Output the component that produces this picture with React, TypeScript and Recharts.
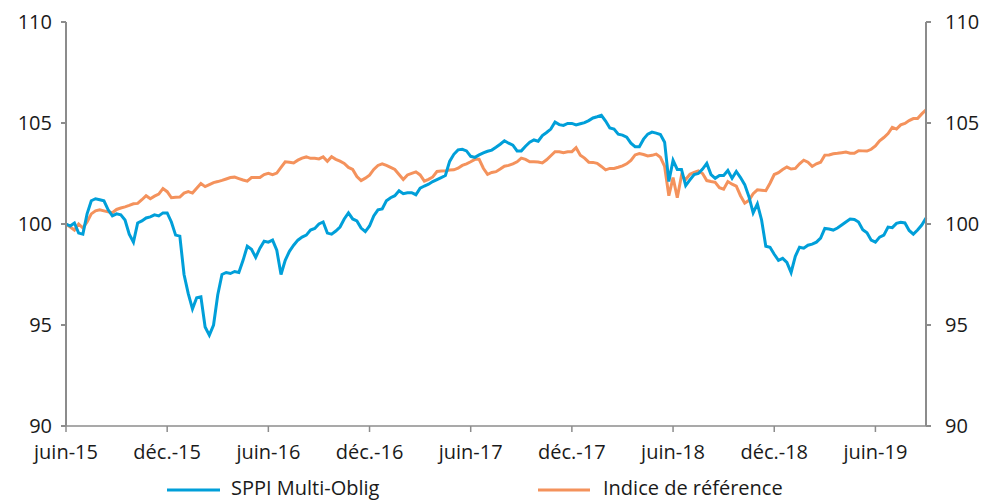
import { LineChart, Line, XAxis, YAxis } from "recharts";

// weekly readings, one point every quarter month from juin-15
const sppi = [
  100.0, 99.9, 100.05, 99.55, 99.5, 100.5, 101.15, 101.25, 101.2, 101.15,
  100.7, 100.4, 100.5, 100.45, 100.2, 99.5, 99.1, 100.05, 100.15, 100.3,
  100.35, 100.45, 100.4, 100.55, 100.55, 100.1, 99.45, 99.4, 97.5, 96.55,
  95.8, 96.35, 96.4, 94.9, 94.5, 95.0, 96.5, 97.5, 97.6, 97.55,
  97.65, 97.6, 98.2, 98.9, 98.75, 98.35, 98.8, 99.15, 99.1, 99.2,
  98.7, 97.5, 98.2, 98.65, 98.95, 99.2, 99.35, 99.45, 99.7, 99.78,
  100.0, 100.1, 99.55, 99.5, 99.65, 99.85, 100.25, 100.55, 100.25, 100.15,
  99.8, 99.62, 99.9, 100.4, 100.7, 100.75, 101.15, 101.3, 101.4, 101.65,
  101.5, 101.55, 101.55, 101.45, 101.77, 101.88, 101.97, 102.1, 102.2, 102.3,
  102.4, 103.1, 103.45, 103.67, 103.7, 103.62, 103.35, 103.3, 103.42, 103.52,
  103.6, 103.66, 103.8, 103.95, 104.12, 104.0, 103.9, 103.62, 103.62, 103.85,
  104.05, 104.16, 104.1, 104.38, 104.53, 104.7, 105.05, 104.92, 104.88, 104.98,
  104.98, 104.9, 104.96, 105.02, 105.12, 105.25, 105.31, 105.38, 105.1, 104.75,
  104.7, 104.45, 104.4, 104.3, 104.0, 103.83, 103.83, 104.2, 104.45, 104.55,
  104.5, 104.43, 104.05, 102.1, 103.15, 102.7, 102.7, 101.9, 102.18, 102.45,
  102.5, 102.72, 103.0, 102.45, 102.26, 102.4, 102.4, 102.65, 102.26, 102.6,
  102.3, 101.95, 101.35, 100.55, 101.0, 100.2, 98.9, 98.85, 98.5, 98.2,
  98.3, 98.1, 97.6, 98.4, 98.85, 98.8, 98.95, 99.0, 99.1, 99.3,
  99.78, 99.75, 99.7, 99.8, 99.95, 100.1, 100.25, 100.22, 100.1, 99.72,
  99.57, 99.2, 99.1, 99.35, 99.45, 99.85, 99.82, 100.03, 100.08, 100.05,
  99.68, 99.5, 99.7, 99.95, 100.3,
];

const benchmark = [
  100.0, 99.85, 99.7, 100.0, 99.8, 100.1, 100.5, 100.65, 100.7, 100.65,
  100.6, 100.56, 100.72, 100.79, 100.85, 100.92, 101.0, 101.02, 101.2, 101.4,
  101.25, 101.38, 101.48, 101.75, 101.6, 101.3, 101.32, 101.33, 101.53, 101.6,
  101.53, 101.77, 102.0, 101.85, 101.95, 102.05, 102.1, 102.16, 102.23, 102.3,
  102.32, 102.25, 102.18, 102.12, 102.3, 102.3, 102.3, 102.45, 102.51, 102.44,
  102.52, 102.8, 103.08, 103.06, 103.02, 103.16, 103.26, 103.32, 103.25, 103.25,
  103.22, 103.32, 103.1, 103.33, 103.2, 103.11, 103.0, 102.8, 102.7, 102.35,
  102.15, 102.27, 102.42, 102.7, 102.9, 102.98, 102.9, 102.8, 102.7, 102.45,
  102.2, 102.43, 102.51, 102.58, 102.43, 102.12, 102.21, 102.33, 102.6, 102.62,
  102.63, 102.67, 102.68, 102.76, 102.9, 102.98, 103.08, 103.2, 103.2, 102.76,
  102.46, 102.55, 102.59, 102.72, 102.86, 102.9, 102.98, 103.08, 103.26, 103.2,
  103.08, 103.08, 103.07, 103.02, 103.18, 103.38, 103.58, 103.58, 103.53, 103.58,
  103.58, 103.78, 103.41, 103.26, 103.06, 103.05, 103.0, 102.85, 102.68, 102.75,
  102.75, 102.81, 102.88, 102.98, 103.15, 103.42, 103.49, 103.44, 103.37, 103.4,
  103.46, 103.3, 102.85, 101.4, 102.3, 101.3, 102.4, 102.2, 102.46, 102.55,
  102.63, 102.5, 102.15, 102.1, 102.06, 101.8, 101.72, 102.1, 101.97, 101.87,
  101.4, 101.03, 101.17, 101.5, 101.69, 101.67, 101.65, 102.02, 102.45, 102.54,
  102.7, 102.82, 102.72, 102.75, 102.98, 103.16, 103.06, 102.85, 102.98, 103.06,
  103.41, 103.42, 103.48, 103.5, 103.53, 103.56, 103.5, 103.5, 103.63, 103.62,
  103.61, 103.7, 103.86, 104.12, 104.28, 104.48, 104.78, 104.7, 104.91, 104.98,
  105.12, 105.22, 105.22, 105.45, 105.65,
];

const tickMonths = [0, 6, 12, 18, 24, 30, 36, 42, 48];
const tickLabels = [
  "juin-15", "déc.-15", "juin-16", "déc.-16", "juin-17",
  "déc.-17", "juin-18", "déc.-18", "juin-19",
];
const yTicks = [90, 95, 100, 105, 110];

const BLUE = "#009fd9";
const ORANGE = "#f4925c";
const AXIS = "#8c8c8c";
const FONT = "'Open Sans', sans-serif";

const data = sppi.map((v, i) => ({ m: i / 4, sppi: v, ref: benchmark[i] }));

const tickStyle = { fill: "#1a1a1a", fontSize: 20, fontFamily: FONT };

export default function App() {
  return (
    <div style={{ position: "absolute", left: 0, top: 0, width: 987, height: 501, overflow: "hidden", background: "#fff" }}>
      <LineChart width={987} height={501} data={data} margin={{ top: 22, right: 0, bottom: 35, left: 0 }}>
        <XAxis
          dataKey="m"
          type="number"
          domain={[0, 51]}
          ticks={tickMonths}
          tickFormatter={(v: number) => tickLabels[tickMonths.indexOf(v)]}
          height={40}
          stroke={AXIS}
          strokeWidth={1.5}
          tickSize={6}
          tickMargin={13}
          tick={tickStyle}
          interval={0}
        />
        <YAxis
          yAxisId="l"
          domain={[90, 110]}
          ticks={yTicks}
          width={66}
          stroke={AXIS}
          strokeWidth={2}
          tickSize={5}
          tickMargin={9}
          tick={tickStyle}
        />
        <YAxis
          yAxisId="r"
          orientation="right"
          domain={[90, 110]}
          ticks={yTicks}
          width={61}
          stroke={AXIS}
          strokeWidth={2}
          tickSize={5}
          tickMargin={14}
          tick={tickStyle}
        />
        <Line yAxisId="r" type="linear" dataKey="ref" stroke={ORANGE} strokeWidth={3} dot={false} isAnimationActive={false} />
        <Line yAxisId="l" type="linear" dataKey="sppi" stroke={BLUE} strokeWidth={3} dot={false} isAnimationActive={false} />
      </LineChart>
      <svg width={987} height={501} style={{ position: "absolute", left: 0, top: 0, pointerEvents: "none" }}>
        <line x1={167} x2={220} y1={490} y2={490} stroke={BLUE} strokeWidth={3} />
        <text x={231} y={495} fontSize={20} fontFamily={FONT} fill="#1a1a1a">SPPI Multi-Oblig</text>
        <line x1={538} x2={590} y1={490} y2={490} stroke={ORANGE} strokeWidth={3} />
        <text x={603} y={495} fontSize={20} fontFamily={FONT} fill="#1a1a1a">Indice de référence</text>
      </svg>
    </div>
  );
}
